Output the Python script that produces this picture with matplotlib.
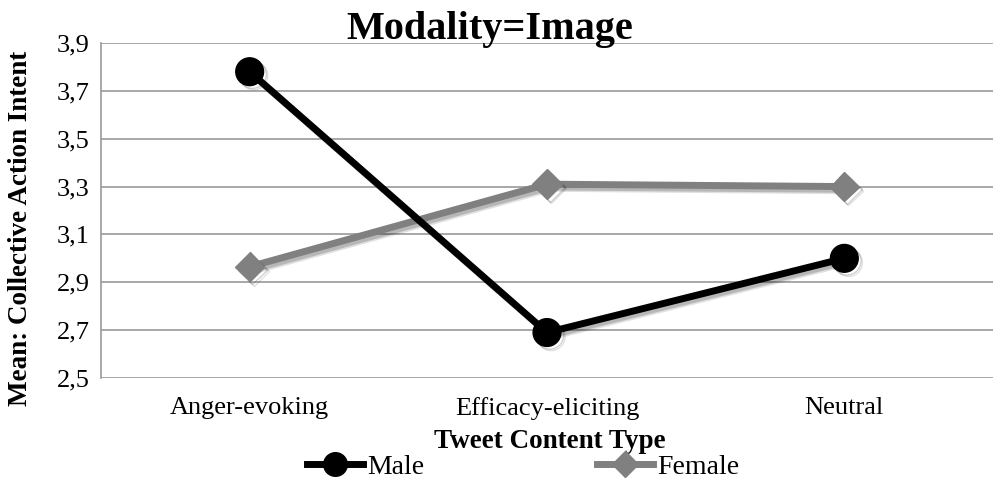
import matplotlib
matplotlib.use("Agg")
import matplotlib.pyplot as plt
import matplotlib.patheffects as pe
from matplotlib.lines import Line2D

categories = ["Anger-evoking", "Efficacy-eliciting", "Neutral"]
male = [3.78, 2.69, 3.00]
female = [2.965, 3.31, 3.30]
yticks = [2.5, 2.7, 2.9, 3.1, 3.3, 3.5, 3.7, 3.9]
ytick_labels = ["2,5", "2,7", "2,9", "3,1", "3,3", "3,5", "3,7", "3,9"]

plt.rcParams['font.family'] = ['Liberation Serif', 'DejaVu Serif']

fig = plt.figure(figsize=(9.93, 4.8), dpi=100)
ax = fig.add_axes([101/993, 102/480, 1 - 101/993, 335/480])

x = list(range(len(categories)))
shadow = [pe.SimpleLineShadow(offset=(3, -3), alpha=0.12, shadow_color='black'),
          pe.SimpleLineShadow(offset=(2, -2), alpha=0.18, shadow_color='black'),
          pe.Normal()]
ax.plot(x, female, color='#808080', lw=5, marker='D', markersize=15,
        solid_capstyle='round', path_effects=shadow, zorder=3)
ax.plot(x, male, color='black', lw=5, marker='o', markersize=20,
        solid_capstyle='round', path_effects=shadow, zorder=4)

ax.set_xlim(-0.5, 2.5)
ax.set_ylim(2.5, 3.9)
ax.set_yticks(yticks)
ax.set_yticklabels(ytick_labels, fontsize=19)
ax.set_xticks(x)
ax.set_xticklabels(categories, fontsize=19)
ax.tick_params(axis='y', length=0, pad=8)
ax.tick_params(axis='x', length=0, pad=14)
ax.grid(axis='y', color='#999999', lw=1.2)
ax.set_axisbelow(True)
for s in ['top', 'right', 'bottom']:
    ax.spines[s].set_visible(False)
ax.spines['left'].set_color('#999999')
ax.spines['left'].set_linewidth(1.2)

ax.set_ylabel("Mean: Collective Action Intent", fontsize=19.5, fontweight='bold')
ax.yaxis.set_label_coords(-0.076, 0.448)
ax.set_xlabel("Tweet Content Type", fontsize=19.5, fontweight='bold')
ax.xaxis.set_label_coords(0.503, -0.152)

fig.text(490/993, 1 - 29/480, "Modality=Image", fontsize=29, fontweight='bold',
         ha='center', va='center')

h_male = Line2D([], [], color='black', lw=5, marker='o', markersize=17)
h_female = Line2D([], [], color='#808080', lw=5, marker='D', markersize=13)
fig.legend([h_male], ["Male"], loc='center left', bbox_to_anchor=(307/993, 1 - 467/480),
           frameon=False, fontsize=20, handlelength=2.0, handletextpad=0.15, borderpad=0,
           borderaxespad=0)
fig.legend([h_female], ["Female"], loc='center left', bbox_to_anchor=(597/993, 1 - 467/480),
           frameon=False, fontsize=20, handlelength=2.0, handletextpad=0.15, borderpad=0,
           borderaxespad=0)

fig.savefig("out.png", dpi=100)
